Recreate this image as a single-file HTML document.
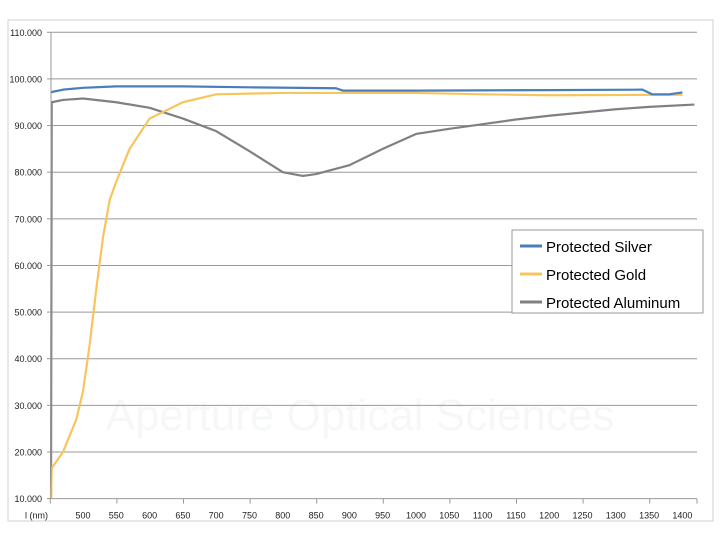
<!DOCTYPE html>
<html><head><meta charset="utf-8"><style>
body{margin:0;background:#fff;}
svg{display:block;font-family:"Liberation Sans",sans-serif;}
</style></head><body>
<svg id="chart" width="720" height="540">
<rect x="8" y="20" width="705" height="501" fill="#fff" stroke="#d0d0d0"/>
<text x="360" y="430" font-size="44" fill="#f6f7f9" text-anchor="middle">Aperture Optical Sciences</text>
<g id="grid"></g><g id="series"></g><g id="axes"></g>
<g>
<rect x="512" y="230" width="191" height="83" fill="#fff" stroke="#999"/>
<line x1="520" y1="246" x2="542" y2="246" stroke="#4a7ebb" stroke-width="3"/>
<text x="546" y="252" font-size="15">Protected Silver</text>
<line x1="520" y1="274" x2="542" y2="274" stroke="#f7c55e" stroke-width="3"/>
<text x="546" y="280" font-size="15">Protected Gold</text>
<line x1="520" y1="302" x2="542" y2="302" stroke="#808080" stroke-width="3"/>
<text x="546" y="308" font-size="15">Protected Aluminum</text>
</g>
</svg>
<script>
const yTicks=[10,20,30,40,50,60,70,80,90,100,110];
const xLabels=[500,550,600,650,700,750,800,850,900,950,1000,1050,1100,1150,1200,1250,1300,1350,1400];
const silverX=[452,453,470,500,550,650,750,880,890,1000,1200,1340,1355,1380,1400];
const silverY=[97,97.2,97.7,98.1,98.4,98.4,98.2,98.0,97.5,97.5,97.6,97.7,96.7,96.7,97.1];
const goldX=[452,453,470,490,500,510,520,530,540,550,570,600,650,700,800,1000,1100,1200,1400];
const goldY=[10,16.5,20,27,33,43,55,66,74,78,85,91.5,95,96.7,97,97,96.7,96.5,96.6];
const alX=[452,453,470,500,550,600,650,700,750,800,830,850,900,950,1000,1050,1100,1150,1200,1250,1300,1350,1418];
const alY=[10,95,95.5,95.8,95,93.8,91.5,88.8,84.5,80,79.2,79.6,81.5,85,88.2,89.3,90.3,91.3,92.1,92.8,93.5,94,94.5];
const NS='http://www.w3.org/2000/svg';
const L=51,R=697,T=32.3,B=498.6;
function xs(nm){return 83+(nm-500)*33.3/50;}
function ys(v){return B-(v-10)*(B-T)/100;}
function mk(tag,attrs,parent){const e=document.createElementNS(NS,tag);for(const k in attrs)e.setAttribute(k,attrs[k]);document.getElementById(parent).appendChild(e);return e;}
yTicks.forEach(v=>{
 const g=mk('line',{x1:L,x2:R,y1:ys(v),y2:ys(v),stroke:'#999','stroke-width':1},'grid');
 
 
 const t=mk('text',{x:42,y:ys(v)+3.5,'font-size':9,'text-anchor':'end',fill:'#222'},'axes');
 t.textContent=v.toFixed(3);
 
 
 mk('line',{x1:L-4,x2:L,y1:ys(v),y2:ys(v),stroke:'#999'},'axes');
});
const ax=mk('line',{x1:L,x2:L,y1:T,y2:B,stroke:'#999'},'axes');


const t0=mk('text',{x:48,y:B+20,'font-size':9,'text-anchor':'end',fill:'#222'},'axes');
t0.textContent='l (nm)';


xLabels.forEach((v,i)=>{
 const t=mk('text',{x:xs(v),y:B+20,'font-size':9,'text-anchor':'middle',fill:'#222'},'axes');
 t.textContent=v;
 
 
 if(v%100===0){mk('line',{x1:xs(v-50)+0.6,x2:xs(v-50)+0.6,y1:B,y2:B+5,stroke:'#999'},'axes');}
});
mk('line',{x1:R,x2:R,y1:B,y2:B+5,stroke:'#999'},'axes');
function draw(xa,ya,color,name){
 const p=mk('polyline',{points:xa.map((x,i)=>xs(x)+','+ys(ya[i])).join(' '),fill:'none',stroke:color,'stroke-width':2.2,'stroke-linejoin':'round'},'series');
 
 
}
draw(alX,alY,'#808080','series-aluminum');
draw(goldX,goldY,'#f7c55e','series-gold');
draw(silverX,silverY,'#4a7ebb','series-silver');
</script>
</body></html>
